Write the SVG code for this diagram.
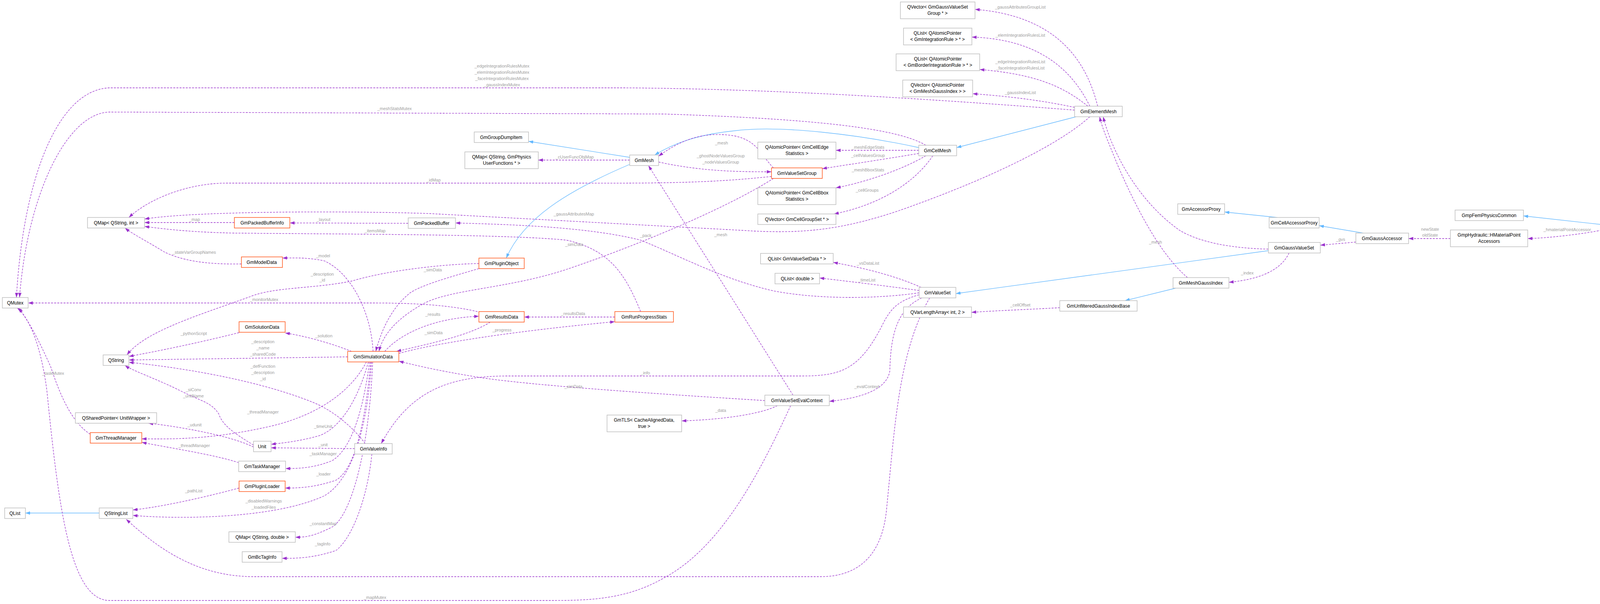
<svg xmlns="http://www.w3.org/2000/svg" width="4398" height="1547" viewBox="0 0 4398 1547">
<style>
.n rect{fill:#fff;stroke:#bfbfbf;stroke-width:1.5}
.o rect{fill:#fff;stroke:#ff5a1f;stroke-width:1.5}
.r rect{fill:#999;stroke:#666;stroke-width:1.5}
text{font-family:"Liberation Sans",Arial,sans-serif;font-size:12px}
.n text,.o text,.r text{fill:#000;text-anchor:middle}
.e path{fill:none}
.d{stroke:#9a32cd;stroke-width:1.3;stroke-dasharray:5,3;marker-end:url(#ap)}
.b{stroke:#63b8ff;stroke-width:1.3;marker-end:url(#ab)}
.l{fill:#9e9e9e;text-anchor:middle;font-size:11px}
</style>
<defs>
<marker id="ap" viewBox="0 0 10 7" refX="10" refY="3.5" markerWidth="12" markerHeight="9" markerUnits="userSpaceOnUse" orient="auto"><path d="M0,0L10,3.5L0,7z" fill="#9a32cd"/></marker>
<marker id="ab" viewBox="0 0 10 7" refX="10" refY="3.5" markerWidth="12" markerHeight="9" markerUnits="userSpaceOnUse" orient="auto"><path d="M0,0L10,3.5L0,7z" fill="#63b8ff"/></marker>
</defs>
<rect width="4398" height="1547" fill="#fff"/>
<g id="edges" class="e">
<path class="b" d="M4263,581L4213,581"/>
<path class="b" d="M4108,576L3900,553"/>
<path class="b" d="M3490,597L3377,578"/>
<path class="b" d="M3270,557L3135,543"/>
<path class="b" d="M3247,642L2447,752"/>
<path class="b" d="M3010,738L2880,770"/>
<path class="b" d="M2755,299L2449,378"/>
<path class="b" d="M2352,378C2200,345 2000,320 1880,335C1780,345 1720,370 1676,397"/>
<path class="b" d="M1612,403L1353,362"/>
<path class="b" d="M1612,421C1450,490 1340,560 1296,661"/>
<path class="b" d="M254,1314L65,1314"/>
<path class="d" d="M4108,588C4050,600 3960,610 3911,611"/>
<path class="d" d="M3713,611L3606,611"/>
<path class="d" d="M3471,620L3380,628"/>
<path class="d" d="M3300,648C3280,690 3230,715 3146,723"/>
<path class="d" d="M3247,638C3150,636 3070,620 3020,590C2920,520 2850,400 2824,299"/>
<path class="d" d="M3040,711C2980,660 2920,560 2860,420C2840,370 2822,330 2815,299"/>
<path class="d" d="M2713,788C2650,792 2560,795 2487,800"/>
<path class="d" d="M2810,272C2780,150 2700,40 2496,24"/>
<path class="d" d="M2790,272C2740,170 2650,100 2488,95"/>
<path class="d" d="M2785,272C2720,220 2650,190 2508,178"/>
<path class="d" d="M2751,275C2680,260 2600,248 2490,240"/>
<path class="d" d="M2751,282C2400,255 2000,228 1600,225L280,225C150,230 60,450 42,762"/>
<path class="d" d="M2370,372C2300,330 2100,305 1700,292L280,287C170,290 70,500 50,762"/>
<path class="d" d="M2790,299C2700,380 2500,470 2300,540C2150,590 2050,600 1900,590L1100,547C900,540 500,540 370,561"/>
<path class="d" d="M1975,452C1850,465 1750,470 1500,469L580,469C480,469 380,510 330,557"/>
<path class="d" d="M600,570L370,570"/>
<path class="d" d="M1045,572L742,571"/>
<path class="d" d="M1640,798C1600,700 1560,640 1450,615C1300,600 900,600 600,597C500,595 430,588 370,580"/>
<path class="d" d="M618,676C520,678 460,665 420,645C380,620 340,600 320,584"/>
<path class="d" d="M1980,430C1950,400 1940,360 1880,348C1800,335 1740,360 1686,400"/>
<path class="d" d="M1686,415C1800,440 1900,440 1975,440"/>
<path class="d" d="M1612,410L1378,410"/>
<path class="d" d="M2352,385L2140,385"/>
<path class="d" d="M2352,393C2250,410 2150,425 2105,432"/>
<path class="d" d="M2370,399C2300,440 2200,470 2140,481"/>
<path class="d" d="M2388,399C2340,470 2250,525 2135,548"/>
<path class="d" d="M1980,457C1850,540 1600,640 1450,690C1300,740 1150,740 1080,780C1010,820 980,860 970,900"/>
<path class="d" d="M1226,688C1150,710 1080,730 1050,750C1000,790 975,850 962,900"/>
<path class="d" d="M1226,675C1150,676 1000,690 900,720C800,740 700,735 640,760C500,810 370,850 325,909"/>
<path class="d" d="M1230,800C1150,780 1050,776 950,776L72,776"/>
<path class="d" d="M1255,825C1200,860 1100,880 1015,900"/>
<path class="d" d="M985,900C1020,860 1100,815 1226,810"/>
<path class="d" d="M1574,812L1342,812"/>
<path class="d" d="M1021,905C1150,870 1400,840 1574,824"/>
<path class="d" d="M955,900C950,800 900,700 830,668C790,660 760,660 723,661"/>
<path class="d" d="M900,900C850,880 780,860 730,853"/>
<path class="d" d="M890,914L330,922"/>
<path class="d" d="M612,852C500,880 400,900 330,913"/>
<path class="d" d="M935,1136C900,1090 850,1050 800,1030C650,970 450,940 330,928"/>
<path class="d" d="M649,1140C600,1110 570,1090 560,1060C540,1030 520,1030 460,1000C400,970 340,950 320,936"/>
<path class="d" d="M649,1145C600,1120 480,1095 380,1084"/>
<path class="d" d="M938,927C900,1000 820,1060 700,1090C550,1125 450,1125 363,1124"/>
<path class="d" d="M943,927C920,1010 880,1090 820,1115C770,1130 720,1135 694,1138"/>
<path class="d" d="M908,1149L694,1147"/>
<path class="d" d="M611,1185C550,1165 450,1150 363,1133"/>
<path class="d" d="M946,927C930,1050 900,1150 850,1180C800,1200 760,1200 731,1200"/>
<path class="d" d="M949,927C935,1080 910,1200 860,1230C800,1250 760,1250 730,1250"/>
<path class="d" d="M951,927C940,1100 900,1230 830,1270C700,1330 450,1330 340,1320"/>
<path class="d" d="M612,1250C500,1280 400,1300 340,1306"/>
<path class="d" d="M954,927C945,1150 900,1320 850,1350C800,1375 780,1376 756,1376"/>
<path class="d" d="M952,1163C940,1280 900,1380 860,1410C800,1430 760,1430 722,1430"/>
<path class="d" d="M231,1112C180,1080 150,1000 130,940C90,850 70,820 48,789"/>
<path class="d" d="M2024,1039C1950,1200 1850,1400 1700,1480C1600,1538 1500,1538 1400,1538L280,1538C180,1538 150,1300 120,1000C100,850 60,800 44,789"/>
<path class="d" d="M1958,1026C1700,1010 1400,990 1250,970C1150,955 1080,940 1021,925"/>
<path class="d" d="M1990,1039C1950,1060 1850,1075 1745,1078"/>
<path class="d" d="M2030,1012L1660,424"/>
<path class="d" d="M2358,736C2300,710 2230,690 2133,672"/>
<path class="d" d="M2353,744C2250,730 2150,718 2098,712"/>
<path class="d" d="M2353,750C2250,765 2100,768 1980,745C1850,715 1750,660 1640,615C1500,580 1300,575 1166,571"/>
<path class="d" d="M2353,755C2300,770 2280,790 2260,830C2200,950 2150,963 2050,963L1300,963C1150,963 1050,1000 976,1136"/>
<path class="d" d="M2360,763C2300,790 2280,850 2278,950C2270,1000 2200,1020 2123,1028"/>
<path class="d" d="M2380,763C2300,900 2290,1100 2270,1300C2260,1420 2200,1477 2100,1477L650,1477C500,1477 400,1400 323,1330"/>
<text class="l" x="4012" y="592">_hmaterialPointAccessor</text>
<text class="l" x="3661" y="591">newState</text>
<text class="l" x="3661" y="606">oldState</text>
<text class="l" x="3432" y="617">_gvs</text>
<text class="l" x="3193" y="703">_index</text>
<text class="l" x="2958" y="624">_mesh</text>
<text class="l" x="2612" y="785">_cellOffset</text>
<text class="l" x="2612" y="22">_gaussAttributesGroupList</text>
<text class="l" x="2612" y="94">_elemIntegrationRulesList</text>
<text class="l" x="2612" y="162">_edgeIntegrationRulesList</text>
<text class="l" x="2612" y="178">_faceIntegrationRulesList</text>
<text class="l" x="2612" y="241">_gaussIndexList</text>
<text class="l" x="1285" y="173">_edgeIntegrationRulesMutex</text>
<text class="l" x="1285" y="189">_elemIntegrationRulesMutex</text>
<text class="l" x="1285" y="205">_faceIntegrationRulesMutex</text>
<text class="l" x="1285" y="221">_gaussIndexMutex</text>
<text class="l" x="1010" y="282">_meshStatsMutex</text>
<text class="l" x="1469" y="552">_gaussAttributesMap</text>
<text class="l" x="1110" y="465">_idMap</text>
<text class="l" x="498" y="566">_map</text>
<text class="l" x="828" y="566">_layout</text>
<text class="l" x="960" y="595">_itemsMap</text>
<text class="l" x="497" y="650">_stateVarGroupNames</text>
<text class="l" x="1847" y="370">_mesh</text>
<text class="l" x="1845" y="403">_ghostNodeValuesGroup</text>
<text class="l" x="1845" y="419">_nodeValuesGroup</text>
<text class="l" x="1471" y="406">_cUserFuncObjMap</text>
<text class="l" x="2222" y="381">_meshEdgeStats</text>
<text class="l" x="2222" y="402">_cellValuesGroup</text>
<text class="l" x="2222" y="439">_meshBboxStats</text>
<text class="l" x="2220" y="491">_cellGroups</text>
<text class="l" x="1470" y="630">_simData</text>
<text class="l" x="1108" y="695">_simData</text>
<text class="l" x="825" y="706">_description</text>
<text class="l" x="825" y="721">_id</text>
<text class="l" x="676" y="771">_monitorMutex</text>
<text class="l" x="1110" y="856">_simData</text>
<text class="l" x="1108" y="809">_results</text>
<text class="l" x="1467" y="807">_resultsData</text>
<text class="l" x="1285" y="849">_progress</text>
<text class="l" x="827" y="659">_model</text>
<text class="l" x="829" y="864">_solution</text>
<text class="l" x="673" y="879">_description</text>
<text class="l" x="673" y="895">_name</text>
<text class="l" x="673" y="911">_sharedCode</text>
<text class="l" x="496" y="858">_pythonScript</text>
<text class="l" x="673" y="942">_defFunction</text>
<text class="l" x="673" y="958">_description</text>
<text class="l" x="673" y="974">_id</text>
<text class="l" x="495" y="1002">_siConv</text>
<text class="l" x="495" y="1018">_unitName</text>
<text class="l" x="498" y="1092">_udunit</text>
<text class="l" x="673" y="1059">_threadManager</text>
<text class="l" x="827" y="1096">_timeUnit</text>
<text class="l" x="827" y="1143">_unit</text>
<text class="l" x="497" y="1145">_threadManager</text>
<text class="l" x="827" y="1166">_taskManager</text>
<text class="l" x="828" y="1218">_loader</text>
<text class="l" x="675" y="1287">_disabledWarnings</text>
<text class="l" x="675" y="1303">_loadedFiles</text>
<text class="l" x="496" y="1261">_pathList</text>
<text class="l" x="827" y="1345">_constantMap</text>
<text class="l" x="826" y="1397">_tagInfo</text>
<text class="l" x="136" y="960">_taskMutex</text>
<text class="l" x="960" y="1534">_mapMutex</text>
<text class="l" x="1468" y="994">_simData</text>
<text class="l" x="1845" y="1055">_data</text>
<text class="l" x="1845" y="605">_mesh</text>
<text class="l" x="2222" y="678">_vsDataList</text>
<text class="l" x="2219" y="721">_timeList</text>
<text class="l" x="1653" y="607">_pack</text>
<text class="l" x="1652" y="959">_info</text>
<text class="l" x="2219" y="994">_evalContext</text>
</g>
<g id="GmpHydraulicPipe" class="r"><rect x="4263" y="568" width="130" height="26"/><text x="4328" y="585">GmpHydraulicPipe</text></g>
<g id="GmpHydraulic" class="n"><rect x="4108" y="568" width="105" height="26"/><text x="4160" y="585">GmpHydraulic</text></g>
<g id="GmpFemPhysicsCommon" class="n"><rect x="3725" y="538" width="175" height="27"/><text x="3812" y="556">GmpFemPhysicsCommon</text></g>
<g id="HMaterialPointAccessors" class="n"><rect x="3713" y="589" width="198" height="43"/><text x="3812" y="606">GmpHydraulic::HMaterialPoint</text><text x="3812" y="622">Accessors</text></g>
<g id="GmGaussAccessor" class="n"><rect x="3471" y="597" width="135" height="27"/><text x="3538" y="615">GmGaussAccessor</text></g>
<g id="GmCellAccessorProxy" class="n"><rect x="3249" y="557" width="128" height="27"/><text x="3313" y="575">GmCellAccessorProxy</text></g>
<g id="GmAccessorProxy" class="n"><rect x="3015" y="522" width="120" height="27"/><text x="3075" y="540">GmAccessorProxy</text></g>
<g id="GmGaussValueSet" class="n"><rect x="3247" y="621" width="133" height="27"/><text x="3313" y="639">GmGaussValueSet</text></g>
<g id="GmMeshGaussIndex" class="n"><rect x="3003" y="711" width="143" height="27"/><text x="3074" y="729">GmMeshGaussIndex</text></g>
<g id="GmUnfilteredGaussIndexBase" class="n"><rect x="2713" y="770" width="198" height="27"/><text x="2812" y="788">GmUnfilteredGaussIndexBase</text></g>
<g id="GmElementMesh" class="n"><rect x="2751" y="272" width="122" height="27"/><text x="2812" y="290">GmElementMesh</text></g>
<g id="QVecGVSG" class="n"><rect x="2305" y="5" width="191" height="43"/><text x="2400" y="22">QVector&lt; GmGaussValueSet</text><text x="2400" y="38">Group * &gt;</text></g>
<g id="QListIR" class="n"><rect x="2313" y="72" width="175" height="43"/><text x="2400" y="89">QList&lt; QAtomicPointer</text><text x="2400" y="105">&lt; GmIntegrationRule &gt; * &gt;</text></g>
<g id="QListBIR" class="n"><rect x="2294" y="138" width="214" height="43"/><text x="2401" y="155">QList&lt; QAtomicPointer</text><text x="2401" y="171">&lt; GmBorderIntegrationRule &gt; * &gt;</text></g>
<g id="QVecMGI" class="n"><rect x="2311" y="205" width="179" height="43"/><text x="2400" y="222">QVector&lt; QAtomicPointer</text><text x="2400" y="238">&lt; GmMeshGaussIndex &gt; &gt;</text></g>
<g id="GmCellMesh" class="n"><rect x="2352" y="372" width="97" height="27"/><text x="2400" y="390">GmCellMesh</text></g>
<g id="QAPEdge" class="n"><rect x="1940" y="364" width="200" height="43"/><text x="2040" y="381">QAtomicPointer&lt; GmCellEdge</text><text x="2040" y="397">Statistics &gt;</text></g>
<g id="GmValueSetGroup" class="o"><rect x="1975" y="430" width="130" height="27"/><text x="2040" y="448">GmValueSetGroup</text></g>
<g id="QAPBbox" class="n"><rect x="1940" y="481" width="200" height="43"/><text x="2040" y="498">QAtomicPointer&lt; GmCellBbox</text><text x="2040" y="514">Statistics &gt;</text></g>
<g id="QVecCGS" class="n"><rect x="1940" y="548" width="200" height="27"/><text x="2040" y="566">QVector&lt; GmCellGroupSet * &gt;</text></g>
<g id="GmGroupDumpItem" class="n"><rect x="1214" y="338" width="139" height="27"/><text x="1283" y="356">GmGroupDumpItem</text></g>
<g id="QMapPhys" class="n"><rect x="1190" y="389" width="188" height="43"/><text x="1284" y="406">QMap&lt; QString, GmPhysics</text><text x="1284" y="422">UserFunctions * &gt;</text></g>
<g id="GmMesh" class="n"><rect x="1612" y="397" width="74" height="27"/><text x="1649" y="415">GmMesh</text></g>
<g id="QMapSI" class="n"><rect x="224" y="557" width="146" height="27"/><text x="297" y="575">QMap&lt; QString, int &gt;</text></g>
<g id="GmPackedBufferInfo" class="o"><rect x="600" y="557" width="142" height="27"/><text x="671" y="575">GmPackedBufferInfo</text></g>
<g id="GmPackedBuffer" class="n"><rect x="1045" y="558" width="121" height="27"/><text x="1105" y="576">GmPackedBuffer</text></g>
<g id="GmModelData" class="o"><rect x="618" y="658" width="105" height="27"/><text x="670" y="676">GmModelData</text></g>
<g id="GmPluginObject" class="o"><rect x="1226" y="661" width="116" height="27"/><text x="1284" y="679">GmPluginObject</text></g>
<g id="QListVSD" class="n"><rect x="1947" y="649" width="186" height="27"/><text x="2040" y="667">QList&lt; GmValueSetData * &gt;</text></g>
<g id="QListDouble" class="n"><rect x="1984" y="700" width="114" height="27"/><text x="2041" y="718">QList&lt; double &gt;</text></g>
<g id="GmValueSet" class="n"><rect x="2353" y="736" width="94" height="27"/><text x="2400" y="754">GmValueSet</text></g>
<g id="QVarLengthArray" class="n"><rect x="2313" y="786" width="174" height="27"/><text x="2400" y="804">QVarLengthArray&lt; int, 2 &gt;</text></g>
<g id="QMutex" class="n"><rect x="6" y="762" width="66" height="27"/><text x="39" y="780">QMutex</text></g>
<g id="GmResultsData" class="o"><rect x="1226" y="798" width="116" height="27"/><text x="1284" y="816">GmResultsData</text></g>
<g id="GmRunProgressStats" class="o"><rect x="1574" y="798" width="150" height="27"/><text x="1649" y="816">GmRunProgressStats</text></g>
<g id="GmSolutionData" class="o"><rect x="612" y="824" width="118" height="27"/><text x="671" y="842">GmSolutionData</text></g>
<g id="GmSimulationData" class="o"><rect x="890" y="900" width="131" height="27"/><text x="955" y="918">GmSimulationData</text></g>
<g id="QString" class="n"><rect x="264" y="909" width="66" height="27"/><text x="297" y="927">QString</text></g>
<g id="GmValueSetEvalContext" class="n"><rect x="1958" y="1012" width="165" height="27"/><text x="2040" y="1030">GmValueSetEvalContext</text></g>
<g id="QSharedPointer" class="n"><rect x="193" y="1057" width="208" height="27"/><text x="297" y="1075">QSharedPointer&lt; UnitWrapper &gt;</text></g>
<g id="GmTLS" class="n"><rect x="1554" y="1063" width="191" height="43"/><text x="1649" y="1080">GmTLS&lt; CacheAlignedData,</text><text x="1649" y="1096">true &gt;</text></g>
<g id="GmThreadManager" class="o"><rect x="231" y="1108" width="132" height="27"/><text x="297" y="1126">GmThreadManager</text></g>
<g id="Unit" class="n"><rect x="649" y="1130" width="45" height="27"/><text x="671" y="1148">Unit</text></g>
<g id="GmValueInfo" class="n"><rect x="908" y="1136" width="96" height="27"/><text x="956" y="1154">GmValueInfo</text></g>
<g id="GmTaskManager" class="n"><rect x="611" y="1181" width="120" height="27"/><text x="671" y="1199">GmTaskManager</text></g>
<g id="GmPluginLoader" class="o"><rect x="612" y="1232" width="118" height="27"/><text x="671" y="1250">GmPluginLoader</text></g>
<g id="QList" class="n"><rect x="12" y="1301" width="53" height="27"/><text x="38" y="1319">QList</text></g>
<g id="QStringList" class="n"><rect x="254" y="1301" width="86" height="27"/><text x="297" y="1319">QStringList</text></g>
<g id="QMapSD" class="n"><rect x="586" y="1362" width="170" height="27"/><text x="671" y="1380">QMap&lt; QString, double &gt;</text></g>
<g id="GmBcTagInfo" class="n"><rect x="620" y="1413" width="102" height="27"/><text x="671" y="1431">GmBcTagInfo</text></g>
</svg>
